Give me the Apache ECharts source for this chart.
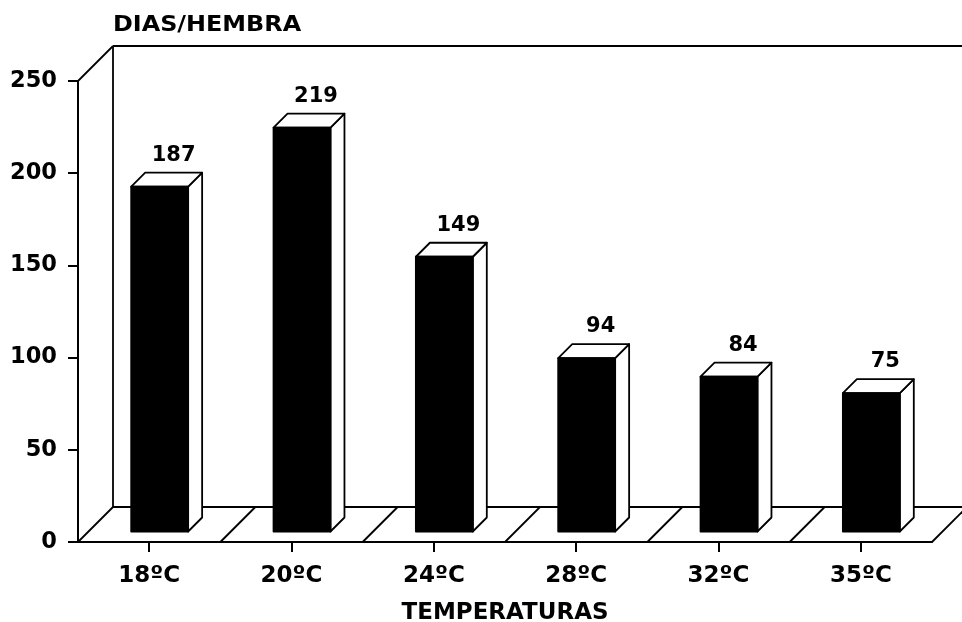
<!DOCTYPE html>
<html><head><meta charset="utf-8">
<script src="https://cdn.jsdelivr.net/npm/echarts@6/dist/echarts.min.js"></script>
<style>html,body{margin:0;padding:0;background:#fff}#c{width:962px;height:622px}</style>
</head><body><div id="c"></div>
<script>
// ---- data ----
const categories = ['18ºC', '20ºC', '24ºC', '28ºC', '32ºC', '35ºC'];
const values = [187, 219, 149, 94, 84, 75];
const yMin = 0, yMax = 250, yStep = 50;
const yAxisTitle = 'DIAS/HEMBRA';
const xAxisTitle = 'TEMPERATURAS';

// ---- style constants ----
const FAMILY = '"DejaVu Sans"';
const DEPTH = 35;       // floor / wall depth in px
const BAR_FRONT = 10.5; // bar front face depth offset
const BAR_DEPTH = 14;   // bar depth
const BAR_W = 0.4;      // bar width fraction of band
const LW = 1.8;

const chart = echarts.init(document.getElementById('c'), null, {renderer: 'canvas'});

function frameRender(params, api) {
  const bw = api.size([1, 0])[0];
  const c0 = api.coord([0, yMin]);
  const cT = api.coord([0, yMax]);
  const x0 = c0[0] - bw / 2;
  const y0 = c0[1];
  const yT = cT[1];
  const x1 = x0 + bw * categories.length;
  const ls = {stroke: '#000', lineWidth: LW, fill: null};
  const children = [];
  const line = (a, b, c, d) => children.push({type: 'line', shape: {x1: a, y1: b, x2: c, y2: d}, style: ls});
  line(x0, yT, x0 + DEPTH, yT - DEPTH);                    // top-left diagonal
  line(x0 + DEPTH, yT - DEPTH, x1 + DEPTH, yT - DEPTH);    // back wall top
  line(x0 + DEPTH, yT - DEPTH, x0 + DEPTH, y0 - DEPTH);    // back wall left
  line(x0 + DEPTH, y0 - DEPTH, x1 + DEPTH, y0 - DEPTH);    // floor back
  for (let k = 0; k <= categories.length; k++) {           // floor dividers
    const x = x0 + k * bw;
    line(x, y0, x + DEPTH, y0 - DEPTH);
  }
  return {type: 'group', children};
}

function barRender(params, api) {
  const i = api.value(0), v = api.value(1);
  const p0 = api.coord([i, 0]);
  const pv = api.coord([i, v]);
  const bw = api.size([1, 0])[0];
  const w = bw * BAR_W;
  const xl = p0[0] - w / 2 + BAR_FRONT;
  const xr = xl + w;
  const yb = p0[1] - BAR_FRONT;
  const yt = pv[1] - BAR_FRONT;
  const d = BAR_DEPTH;
  const st = {stroke: '#000', lineWidth: LW, lineJoin: 'round'};
  return {
    type: 'group',
    children: [
      {type: 'polygon', shape: {points: [[xr, yb], [xr + d, yb - d], [xr + d, yt - d], [xr, yt]]},
       style: Object.assign({fill: '#fff'}, st)},
      {type: 'polygon', shape: {points: [[xl, yt], [xr, yt], [xr + d, yt - d], [xl + d, yt - d]]},
       style: Object.assign({fill: '#fff'}, st)},
      {type: 'rect', shape: {x: xl, y: yt, width: w, height: yb - yt},
       style: Object.assign({fill: '#000'}, st)},
      {type: 'text', style: {text: String(v), x: p0[0] + BAR_FRONT + d, y: yt - d - 7,
        align: 'center', verticalAlign: 'bottom', font: 'bold 21px ' + FAMILY, fill: '#000'}}
    ]
  };
}

chart.setOption({
  animation: false,
  backgroundColor: '#fff',
  grid: {left: 78, right: 30, top: 81, bottom: 80, containLabel: false, outerBoundsMode: 'none'},
  graphic: [{type: 'text', x: 113, y: 14, scaleX: 1.085,
    style: {text: yAxisTitle, font: 'bold 22px ' + FAMILY, fill: '#000'}}],
  xAxis: {
    type: 'category', data: categories,
    axisLine: {show: true, lineStyle: {color: '#000', width: 2}},
    axisTick: {show: true, alignWithLabel: true, length: 10, lineStyle: {color: '#000', width: 2}},
    axisLabel: {color: '#000', fontFamily: 'DejaVu Sans', fontWeight: 'bold', fontSize: 23, margin: 23},
    name: xAxisTitle, nameLocation: 'middle', nameGap: 60,
    nameTextStyle: {color: '#000', fontFamily: 'DejaVu Sans', fontWeight: 'bold', fontSize: 23},
    splitLine: {show: false}
  },
  yAxis: {
    type: 'value', min: yMin, max: yMax, interval: yStep,
    axisLine: {show: true, lineStyle: {color: '#000', width: 2}},
    axisTick: {show: true, length: 10, lineStyle: {color: '#000', width: 2}},
    axisLabel: {color: '#000', fontFamily: 'DejaVu Sans', fontWeight: 'bold', fontSize: 22.5, margin: 21},
    splitLine: {show: false}
  },
  series: [
    {type: 'custom', renderItem: frameRender, data: [[0, 0]], silent: true, z: 1},
    {type: 'custom', renderItem: barRender, data: values.map((v, i) => [i, v]), z: 2}
  ]
});
</script></body></html>
